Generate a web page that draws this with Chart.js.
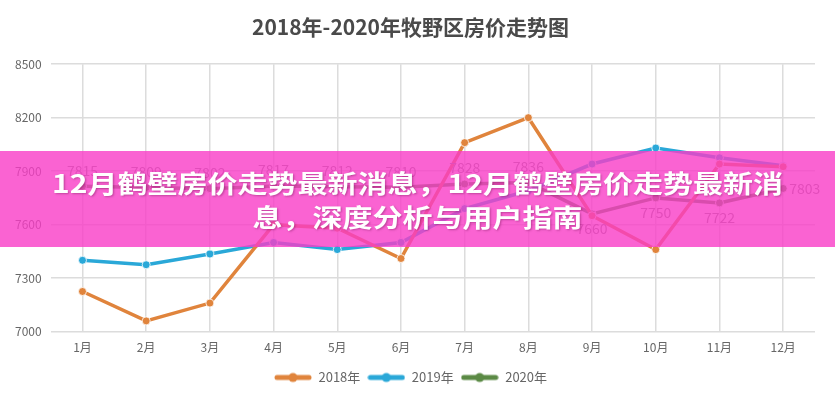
<!DOCTYPE html>
<html>
<head>
<meta charset="utf-8">
<script src="https://cdn.jsdelivr.net/npm/chart.js@4.4.1/dist/chart.umd.min.js"></script>
<style>
  body { margin: 0; background: #fff; }
  #wrap { position: relative; width: 835px; height: 400px; }
  #banner {
    position: absolute; left: 0; top: 151px; width: 835px; height: 96px;
    background: rgba(249, 60, 199, 0.8);
  }
  #banner .txt {
    position: absolute; left: 0; top: 14px; width: 835px;
    text-align: center; color: #fff;
    font-family: "Noto Sans CJK SC", sans-serif; font-weight: 700;
    font-size: 25px; line-height: 34px;
    text-shadow: 1px 1px 2px rgba(90, 0, 60, 0.35);
  }
  #banner .txt span { display: inline-block; transform: scaleX(1.2); }
</style>
</head>
<body>
<div id="wrap">
  <canvas id="priceChart"></canvas>
  <div id="banner">
    <div class="txt">
      <span>12月鹤壁房价走势最新消息，12月鹤壁房价走势最新消</span><br>
      <span>息，深度分析与用户指南</span>
    </div>
  </div>
</div>
<script>
// data
const months = ["1月","2月","3月","4月","5月","6月","7月","8月","9月","10月","11月","12月"];
const price2018 = [7225, 7060, 7160, 7600, 7580, 7410, 8060, 8200, 7650, 7460, 7940, 7925];
const price2019 = [7400, 7375, 7435, 7500, 7460, 7500, 7690, 7790, 7940, 8030, 7975, 7930];
const price2020 = [7815, 7809, 7802, 7817, 7812, 7810, 7828, 7836, 7660, 7750, 7722, 7803];
const yTicks = [7000, 7300, 7600, 7900, 8200, 8500];

const FONT = '"Noto Sans CJK SC", sans-serif';

// legend marker: thick line with a dot
function legendMark(color) {
  const c = document.createElement("canvas");
  c.width = 38; c.height = 12;
  const g = c.getContext("2d");
  g.strokeStyle = color;
  g.lineWidth = 5;
  g.lineCap = "round";
  g.beginPath(); g.moveTo(3, 6); g.lineTo(35, 6); g.stroke();
  g.fillStyle = color;
  g.beginPath(); g.arc(19, 6, 4.5, 0, Math.PI * 2); g.fill();
  return c;
}

// value labels for 2020 series
const valueLabels = {
  id: "valueLabels",
  afterDatasetsDraw(chart) {
    const ctx = chart.ctx;
    const meta = chart.getDatasetMeta(2);
    ctx.save();
    ctx.font = "14px " + FONT;
    ctx.fillStyle = "#8a8a8a";
    meta.data.forEach((pt, i) => {
      const v = price2020[i];
      if (i === meta.data.length - 1) {
        ctx.textAlign = "left"; ctx.textBaseline = "middle";
        ctx.fillText(v, pt.x + 6, pt.y);
      } else if (v < 7760) {
        ctx.textAlign = "center"; ctx.textBaseline = "top";
        ctx.fillText(v, pt.x, pt.y + 8);
      } else {
        ctx.textAlign = "center"; ctx.textBaseline = "bottom";
        ctx.fillText(v, pt.x, pt.y - 9);
      }
    });
    ctx.restore();
  }
};

const colors = ["#e0843c", "#2aa8d8", "#5b8a45"];

new Chart(document.getElementById("priceChart"), {
  type: "line",
  data: {
    labels: months,
    datasets: [
      { label: "2018年", data: price2018 },
      { label: "2019年", data: price2019 },
      { label: "2020年", data: price2020 }
    ].map((d, i) => Object.assign(d, {
      borderColor: colors[i],
      backgroundColor: colors[i],
      pointBackgroundColor: colors[i],
      pointBorderColor: "rgba(255,255,255,0.8)",
      pointBorderWidth: 1,
      pointRadius: 4,
      borderWidth: 3.5,
      tension: 0
    }))
  },
  options: {
    responsive: true,
    maintainAspectRatio: false,
    animation: false,
    layout: { padding: { left: 6, right: 20, bottom: 6 } },
    plugins: {
      title: {
        display: true,
        text: "2018年-2020年牧野区房价走势图",
        color: "#4a4a4a",
        font: { family: FONT, size: 21, weight: "bold" },
        padding: { top: 14, bottom: 25 }
      },
      legend: {
        position: "bottom",
        labels: {
          usePointStyle: true,
          pointStyleWidth: 38,
          boxHeight: 12,
          padding: 7,
          color: "#666",
          font: { family: FONT, size: 13 },
          generateLabels(chart) {
            return chart.data.datasets.map((d, i) => ({
              text: d.label,
              pointStyle: legendMark(colors[i]),
              fontColor: "#666",
              datasetIndex: i,
              lineWidth: 0
            }));
          }
        }
      },
      tooltip: { enabled: false }
    },
    scales: {
      x: {
        offset: true,
        grid: { offset: false, color: "#dcdcdc", lineWidth: 1.5, drawTicks: false },
        border: { display: false },
        ticks: { color: "#666", padding: 9, font: { family: FONT, size: 12 } }
      },
      y: {
        min: yTicks[0],
        max: yTicks[yTicks.length - 1],
        afterBuildTicks(axis) { axis.ticks = yTicks.map(v => ({ value: v })); },
        grid: { color: "#dcdcdc", lineWidth: 1.5, drawTicks: false },
        border: { display: false },
        ticks: {
          color: "#666", padding: 9, font: { family: FONT, size: 12 },
          callback: v => String(v)
        }
      }
    }
  },
  plugins: [valueLabels]
});
</script>
</body>
</html>
